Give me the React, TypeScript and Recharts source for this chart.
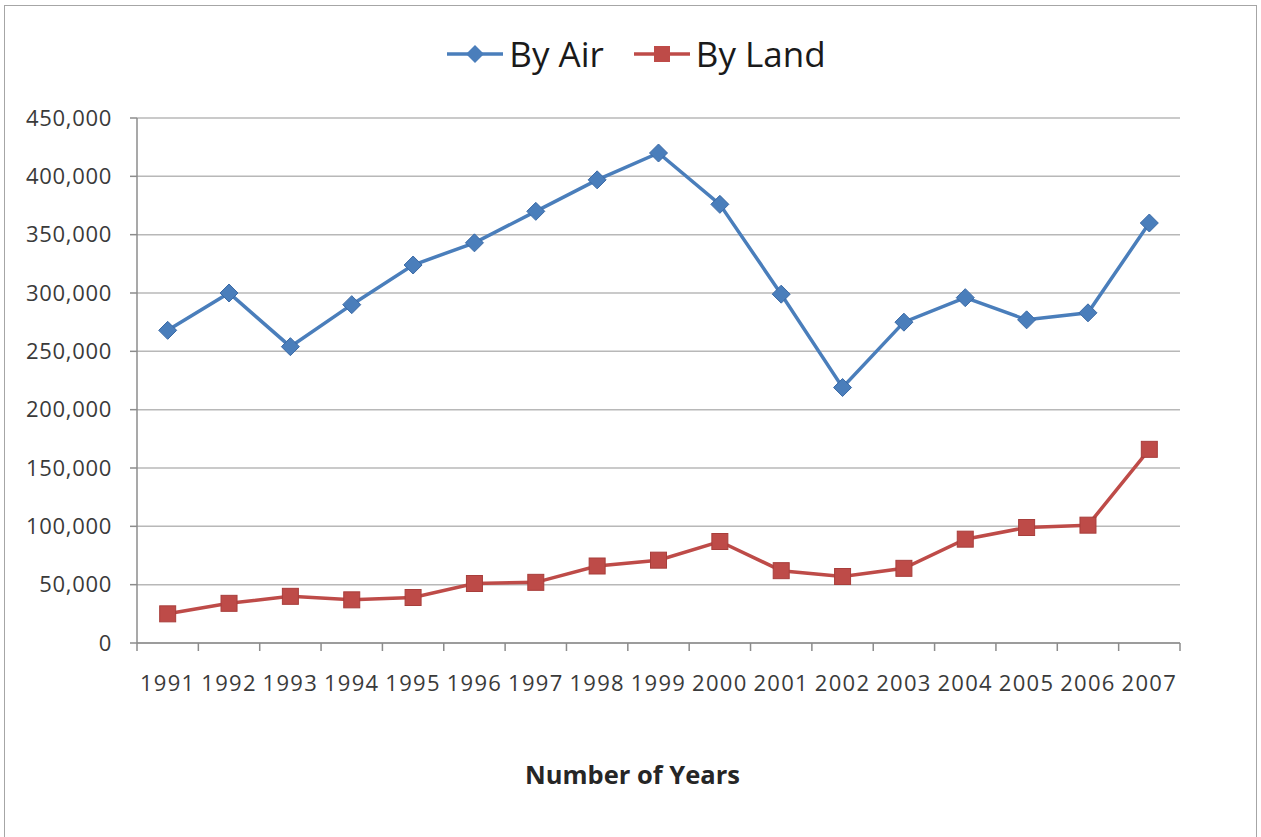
import React from 'react';
import { LineChart, Line, XAxis, YAxis, CartesianGrid } from 'recharts';

const years = ['1991', '1992', '1993', '1994', '1995', '1996', '1997', '1998', '1999', '2000', '2001', '2002', '2003', '2004', '2005', '2006', '2007'];
const byAir = [268000, 300000, 254000, 290000, 324000, 343000, 370000, 397000, 420000, 376000, 299000, 219000, 275000, 296000, 277000, 283000, 360000];
const byLand = [25000, 34000, 40000, 37000, 39000, 51000, 52000, 66000, 71000, 87000, 62000, 57000, 64000, 89000, 99000, 101000, 166000];
const yTicks = [0, 50000, 100000, 150000, 200000, 250000, 300000, 350000, 400000, 450000];

const AIR = '#4A7EBB';
const LAND = '#BE4B48';
const AXIS = '#8c8c8c';
const TEXT = '#3a3a3a';
const FONT = '"Open Sans", "Liberation Sans", sans-serif';

// x runs 1..17; category boundaries sit on the half steps
const data = years.map((year, i) => ({ x: i + 1, year, air: byAir[i], land: byLand[i] }));
const xTicks = [0.5, ...years.map((_, i) => i + 1), ...years.map((_, i) => i + 1.5)].sort((a, b) => a - b);

// whole steps carry the year label, half steps get a small tick mark
const YearTick = (props: any) => {
  const { x, y, payload } = props;
  const v = payload.value as number;
  if (Number.isInteger(v)) {
    return (
      <text x={x} y={y + 32} dy="0.71em" textAnchor="middle" fill={TEXT} fontSize={22} fontFamily={FONT} letterSpacing={1.3}>
        {years[v - 1]}
      </text>
    );
  }
  return <line x1={x} y1={y} x2={x} y2={y + 8} stroke={AXIS} strokeWidth={1.5} />;
};

const Diamond = (props: any) => {
  const { cx, cy, index } = props;
  const r = 9;
  return (
    <polygon
      key={`d-${index}`}
      points={`${cx},${cy - r} ${cx + r},${cy} ${cx},${cy + r} ${cx - r},${cy}`}
      fill={AIR}
      stroke="#3b6aa6"
      strokeWidth={1}
    />
  );
};

const Square = (props: any) => {
  const { cx, cy, index } = props;
  const s = 16;
  return <rect key={`s-${index}`} x={cx - s / 2} y={cy - s / 2} width={s} height={s} fill={LAND} stroke="#a83e3b" strokeWidth={1} />;
};

const LegendItem = ({ color, label, square }: { color: string; label: string; square?: boolean }) => (
  <div style={{ display: 'flex', alignItems: 'center', marginRight: 30 }}>
    <svg width={56} height={20} style={{ marginRight: 6 }}>
      <line x1={0} y1={10} x2={56} y2={10} stroke={color} strokeWidth={3.5} />
      {square ? (
        <rect x={20} y={2} width={16} height={16} fill={color} />
      ) : (
        <polygon points="28,1 37,10 28,19 19,10" fill={color} />
      )}
    </svg>
    <span>{label}</span>
  </div>
);

export default function App() {
  return (
    <div
      style={{
        position: 'absolute',
        left: 4,
        top: 5,
        width: 1251,
        height: 831,
        border: '1px solid #a6a6a6',
        borderBottom: 'none',
        background: '#fff',
        fontFamily: FONT,
      }}
    >
      <div
        style={{
          position: 'absolute',
          top: 28,
          left: 0,
          width: '100%',
          display: 'flex',
          justifyContent: 'center',
          paddingLeft: 42,
          boxSizing: 'border-box',
          fontSize: 35,
          color: '#1a1a1a',
          lineHeight: '40px',
        }}
      >
        <LegendItem color={AIR} label="By Air" />
        <LegendItem color={LAND} label="By Land" square />
      </div>

      <LineChart width={1251} height={831} data={data} margin={{ top: 112, right: 76, left: 0, bottom: 0 }}>
        <CartesianGrid vertical={false} stroke="#b8b8b8" strokeWidth={1.5} />
        <XAxis
          type="number"
          dataKey="x"
          domain={[0.5, 17.5]}
          ticks={xTicks}
          interval={0}
          tick={<YearTick />}
          tickLine={false}
          tickSize={0}
          tickMargin={0}
          height={194}
          stroke={AXIS}
          strokeWidth={1.5}
        />
        <YAxis
          domain={[0, 450000]}
          ticks={yTicks}
          width={132}
          tickSize={7}
          tickMargin={18}
          stroke={AXIS}
          strokeWidth={1.5}
          tickFormatter={(v: number) => v.toLocaleString('en-US')}
          tick={{ fill: TEXT, fontSize: 22, fontFamily: FONT, letterSpacing: 0.7 }}
        />
        <Line dataKey="air" stroke={AIR} strokeWidth={3.5} dot={Diamond} activeDot={false} isAnimationActive={false} />
        <Line dataKey="land" stroke={LAND} strokeWidth={3.5} dot={Square} activeDot={false} isAnimationActive={false} />
      </LineChart>

      <div
        style={{
          position: 'absolute',
          top: 751,
          left: 0,
          width: '100%',
          textAlign: 'center',
          paddingLeft: 4,
          boxSizing: 'border-box',
          fontSize: 25.5,
          fontWeight: 700,
          color: '#262626',
        }}
      >
        Number of Years
      </div>
    </div>
  );
}
